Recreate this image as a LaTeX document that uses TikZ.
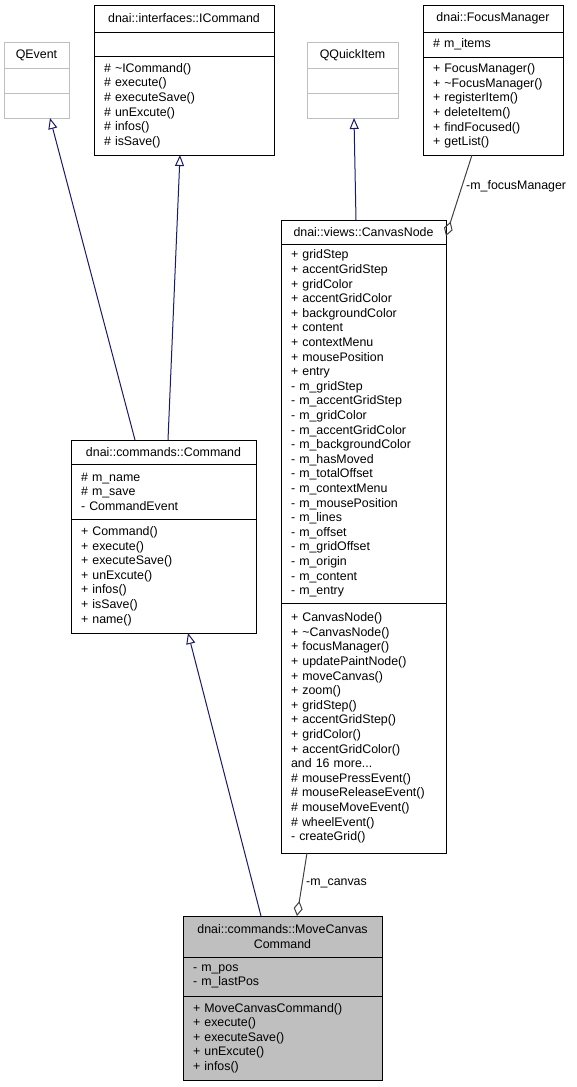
\documentclass[tikz,border=0pt]{standalone}
\usepackage{fontspec}
\setmainfont{Liberation Sans}
\usetikzlibrary{arrows.meta, positioning}
\definecolor{inhblue}{RGB}{25,25,112}
\definecolor{aggrgray}{RGB}{64,64,64}
\definecolor{extgray}{RGB}{191,191,191}
\definecolor{curfill}{RGB}{191,191,191}
\newcommand{\umlfont}{\fontsize{12.4pt}{14.6pt}\selectfont}
\tikzstyle{umltitle} = [rectangle, draw=black, line width=1pt,
inner xsep=10pt, inner ysep=0pt, outer sep=0pt,
align=center, font=\umlfont]
\tikzstyle{umlpart} = [umltitle, align=left]
\tikzstyle{extbox} = [draw=extgray]
\tikzstyle{curbox} = [fill=curfill]
\tikzstyle{inherit} = [-{Triangle[open, length=11pt, width=9pt]}, draw=inhblue, line width=1pt]
\tikzstyle{aggreg} = [-{Diamond[open, length=15pt, width=9pt]}, draw=aggrgray, line width=1pt]
\tikzstyle{rolelabel} = [font=\umlfont, anchor=west, inner sep=0pt]

\begin{document}
\begin{tikzpicture}[x=1pt, y=-1pt]
    \useasboundingbox (0,0) rectangle (576,1087);

    \node (icTitle) [umltitle, text width=160pt, minimum height=27pt, anchor=north west] at (94,5)
    {dnai::interfaces::ICommand};
    \node (icAttr) [umlpart, text width=160pt, minimum height=24pt, below=0pt of icTitle] {};
    \node (icOps) [umlpart, text width=160pt, minimum height=99pt, below=0pt of icAttr]
    {\# \textasciitilde ICommand()\\\# execute()\\\# executeSave()\\\# unExcute()\\\# infos()\\\# isSave()};

    \node (qevTitle) [umltitle, extbox, text width=45pt, minimum height=26pt, anchor=north west] at (4,42) {QEvent};
    \node (qevAttr) [umlpart, extbox, text width=45pt, minimum height=25pt, below=0pt of qevTitle] {};
    \node (qevOps) [umlpart, extbox, text width=45pt, minimum height=25pt, below=0pt of qevAttr] {};

    \node (qqiTitle) [umltitle, extbox, text width=71pt, minimum height=26pt, anchor=north west] at (307,42) {QQuickItem};
    \node (qqiAttr) [umlpart, extbox, text width=71pt, minimum height=25pt, below=0pt of qqiTitle] {};
    \node (qqiOps) [umlpart, extbox, text width=71pt, minimum height=25pt, below=0pt of qqiAttr] {};

    \node (fmTitle) [umltitle, text width=120pt, minimum height=27pt, anchor=north west] at (423,5)
    {dnai::FocusManager};
    \node (fmAttr) [umlpart, text width=120pt, minimum height=25pt, below=0pt of fmTitle] {\# m\_items};
    \node (fmOps) [umlpart, text width=120pt, minimum height=98pt, below=0pt of fmAttr]
    {+ FocusManager()\\+ \textasciitilde FocusManager()\\+ registerItem()\\+ deleteItem()\\+ findFocused()\\+ getList()};

    \node (cnTitle) [umltitle, text width=145pt, minimum height=24pt, anchor=north west] at (281,220)
    {dnai::views::CanvasNode};
    \node (cnAttr) [umlpart, text width=145pt, minimum height=359pt, below=0pt of cnTitle]
    {+ gridStep\\+ accentGridStep\\+ gridColor\\+ accentGridColor\\+ backgroundColor\\+ content\\+ contextMenu\\+ mousePosition\\+ entry\\- m\_gridStep\\- m\_accentGridStep\\- m\_gridColor\\- m\_accentGridColor\\- m\_backgroundColor\\- m\_hasMoved\\- m\_totalOffset\\- m\_contextMenu\\- m\_mousePosition\\- m\_lines\\- m\_offset\\- m\_gridOffset\\- m\_origin\\- m\_content\\- m\_entry};
    \node (cnOps) [umlpart, text width=145pt, minimum height=250pt, below=0pt of cnAttr]
    {+ CanvasNode()\\+ \textasciitilde CanvasNode()\\+ focusManager()\\+ updatePaintNode()\\+ moveCanvas()\\+ zoom()\\+ gridStep()\\+ accentGridStep()\\+ gridColor()\\+ accentGridColor()\\and 16 more...\\\# mousePressEvent()\\\# mouseReleaseEvent()\\\# mouseMoveEvent()\\\# wheelEvent()\\- createGrid()};

    \node (cmdTitle) [umltitle, text width=165pt, minimum height=24pt, anchor=north west] at (71,440)
    {dnai::commands::Command};
    \node (cmdAttr) [umlpart, text width=165pt, minimum height=55pt, below=0pt of cmdTitle]
    {\# m\_name\\\# m\_save\\- CommandEvent};
    \node (cmdOps) [umlpart, text width=165pt, minimum height=114pt, below=0pt of cmdAttr]
    {+ Command()\\+ execute()\\+ executeSave()\\+ unExcute()\\+ infos()\\+ isSave()\\+ name()};

    \node (mccTitle) [umltitle, curbox, text width=179pt, minimum height=41pt, anchor=north west] at (183,916)
    {dnai::commands::MoveCanvas\\Command};
    \node (mccAttr) [umlpart, curbox, text width=179pt, minimum height=39pt, below=0pt of mccTitle]
    {- m\_pos\\- m\_lastPos};
    \node (mccOps) [umlpart, curbox, text width=179pt, minimum height=84pt, below=0pt of mccAttr]
    {+ MoveCanvasCommand()\\+ execute()\\+ executeSave()\\+ unExcute()\\+ infos()};

    \draw[inherit] ([xshift=64pt]cmdTitle.north west) -- ([xshift=46pt]qevOps.south west);
    \draw[inherit] ([xshift=97pt]cmdTitle.north west) -- ([xshift=86pt]icOps.south west);
    \draw[inherit] ([xshift=75pt]cnTitle.north west) -- ([xshift=47pt]qqiOps.south west);
    \draw[inherit] ([xshift=78pt]mccTitle.north west) -- ([xshift=117pt]cmdOps.south west);
    \draw[aggreg] ([xshift=49pt]fmOps.south west) -- ([yshift=-16pt]cnTitle.north east);
    \draw[aggreg] ([xshift=26pt]cnOps.south west) -- ([xshift=114pt]mccTitle.north west);

    \node (fmRole) [rolelabel] at (466,186) {-m\_focusManager};
    \node (cnRole) [rolelabel] at (306,883) {-m\_canvas};
\end{tikzpicture}
\end{document}
